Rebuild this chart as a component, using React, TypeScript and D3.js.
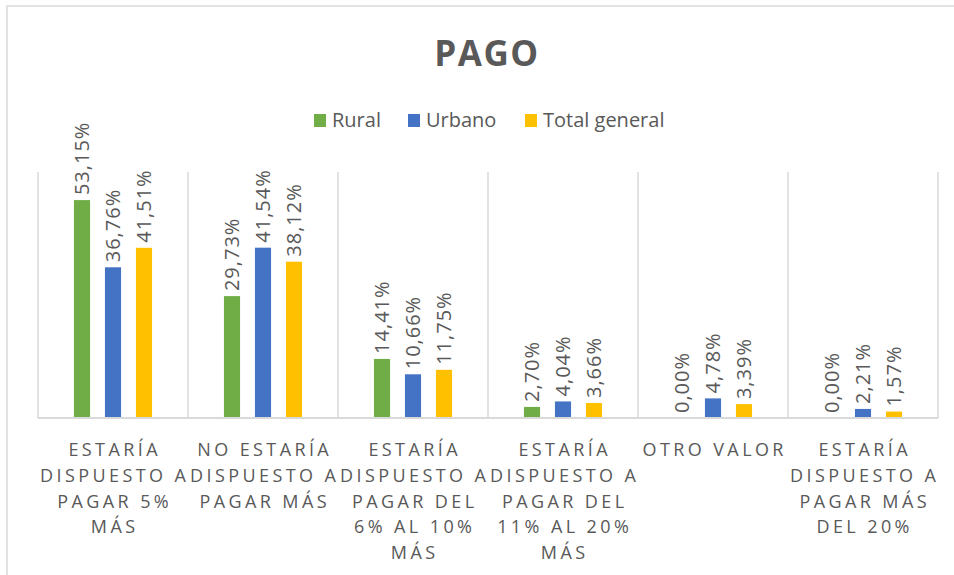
import { useEffect, useRef } from "react";
import * as d3 from "d3";

// data (percent)
const categories = [
  "Estaría dispuesto a pagar 5% más",
  "No estaría dispuesto a pagar más",
  "Estaría dispuesto a pagar del 6% al 10% más",
  "Estaría dispuesto a pagar del 11% al 20% más",
  "Otro valor",
  "Estaría dispuesto a pagar más del 20%",
];
// how the tick labels wrap in the picture
const categoryLines = [
  ["ESTARÍA", "DISPUESTO A", "PAGAR 5%", "MÁS"],
  ["NO ESTARÍA", "DISPUESTO A", "PAGAR MÁS"],
  ["ESTARÍA", "DISPUESTO A", "PAGAR DEL", "6% AL 10%", "MÁS"],
  ["ESTARÍA", "DISPUESTO A", "PAGAR DEL", "11% AL 20%", "MÁS"],
  ["OTRO VALOR"],
  ["ESTARÍA", "DISPUESTO A", "PAGAR MÁS", "DEL 20%"],
];
const seriesNames = ["Rural", "Urbano", "Total general"];
const rural = [53.15, 29.73, 14.41, 2.7, 0, 0];
const urbano = [36.76, 41.54, 10.66, 4.04, 4.78, 2.21];
const totalGeneral = [41.51, 38.12, 11.75, 3.66, 3.39, 1.57];
const colors = ["#70ad47", "#4472c4", "#ffc000"];

const W = 954;
const H = 575;
const TEXT = "#595959";
const GRID = "#d9d9d9";
const FONT = "'Open Sans', sans-serif";

const App = () => {
  const ref = useRef<SVGSVGElement>(null);

  useEffect(() => {
    const svg = d3.select(ref.current);
    svg.selectAll("*").remove();

    const seriesValues = [rural, urbano, totalGeneral];
    const x0 = d3.scaleBand().domain(categories).range([38, 938]).padding(0);
    const x1 = d3
      .scaleBand()
      .domain(seriesNames)
      .range([0, x0.bandwidth()])
      .paddingInner(0.48)
      .paddingOuter(1.16);
    const y = d3.scaleLinear().domain([0, 60]).range([418, 172]);

    // chart frame
    svg
      .append("rect")
      .attr("x", 7)
      .attr("y", 6)
      .attr("width", W + 20)
      .attr("height", H + 20)
      .attr("fill", "#fff")
      .attr("stroke", GRID)
      .attr("stroke-width", 1.5);

    // title
    svg
      .append("text")
      .attr("x", 487)
      .attr("y", 66)
      .attr("text-anchor", "middle")
      .attr("font-family", FONT)
      .attr("font-weight", 700)
      .attr("font-size", 35)
      .attr("letter-spacing", 1.5)
      .attr("fill", TEXT)
      .text("PAGO");

    // legend
    const legendX = [314, 408, 525];
    const legend = svg
      .append("g")
      .selectAll("g")
      .data(seriesNames)
      .enter()
      .append("g")
      .attr("transform", (_, i) => `translate(${legendX[i]},114)`);
    legend
      .append("rect")
      .attr("width", 12)
      .attr("height", 13)
      .attr("fill", (_, i) => colors[i]);
    legend
      .append("text")
      .attr("x", 18)
      .attr("y", 13)
      .attr("font-family", FONT)
      .attr("font-size", 20)
      .attr("fill", TEXT)
      .text((d) => d);

    // vertical gridlines between categories
    const bounds = categories.map((c) => x0(c) as number).concat([938]);
    svg
      .append("g")
      .selectAll("line")
      .data(bounds)
      .enter()
      .append("line")
      .attr("x1", (d) => d)
      .attr("x2", (d) => d)
      .attr("y1", y(60))
      .attr("y2", y(0))
      .attr("stroke", GRID)
      .attr("stroke-width", 1.5);

    // bars and labels
    seriesNames.forEach((name, si) => {
      const g = svg.append("g");
      const vals = seriesValues[si];
      g.selectAll("rect")
        .data(vals)
        .enter()
        .append("rect")
        .attr("x", (_, i) => (x0(categories[i]) as number) + (x1(name) as number))
        .attr("y", (d) => y(d))
        .attr("width", x1.bandwidth())
        .attr("height", (d) => y(0) - y(d))
        .attr("fill", colors[si]);
      g.selectAll("text")
        .data(vals)
        .enter()
        .append("text")
        .attr("transform", (d, i) => {
          const cx = (x0(categories[i]) as number) + (x1(name) as number) + x1.bandwidth() / 2;
          return `translate(${cx},${y(d) - 5}) rotate(-90)`;
        })
        .attr("dy", "0.35em")
        .attr("font-family", FONT)
        .attr("font-size", 20)
        .attr("letter-spacing", 1)
        .attr("fill", TEXT)
        .text((d) => d3.format(".2f")(d).replace(".", ",") + "%");
    });

    // baseline
    svg
      .append("line")
      .attr("x1", 38)
      .attr("x2", 938)
      .attr("y1", y(0))
      .attr("y2", y(0))
      .attr("stroke", GRID)
      .attr("stroke-width", 2);

    // category labels
    const ticks = svg
      .append("g")
      .selectAll("text")
      .data(categories)
      .enter()
      .append("text")
      .attr("font-family", FONT)
      .attr("font-size", 18)
      .attr("letter-spacing", 3.4)
      .attr("fill", TEXT)
      .attr("text-anchor", "middle");
    ticks
      .selectAll("tspan")
      .data((_, i) => categoryLines[i].map((t) => ({ t, i })))
      .enter()
      .append("tspan")
      .attr("x", (d) => (x0(categories[d.i]) as number) + x0.bandwidth() / 2 + 1.7)
      .attr("y", (_, j) => 456 + j * 25.8)
      .text((d) => d.t);
  }, []);

  return (
    <svg
      ref={ref}
      width={W}
      height={H}
      style={{ position: "absolute", left: 0, top: 0, background: "#fff" }}
    />
  );
};

export default App;
